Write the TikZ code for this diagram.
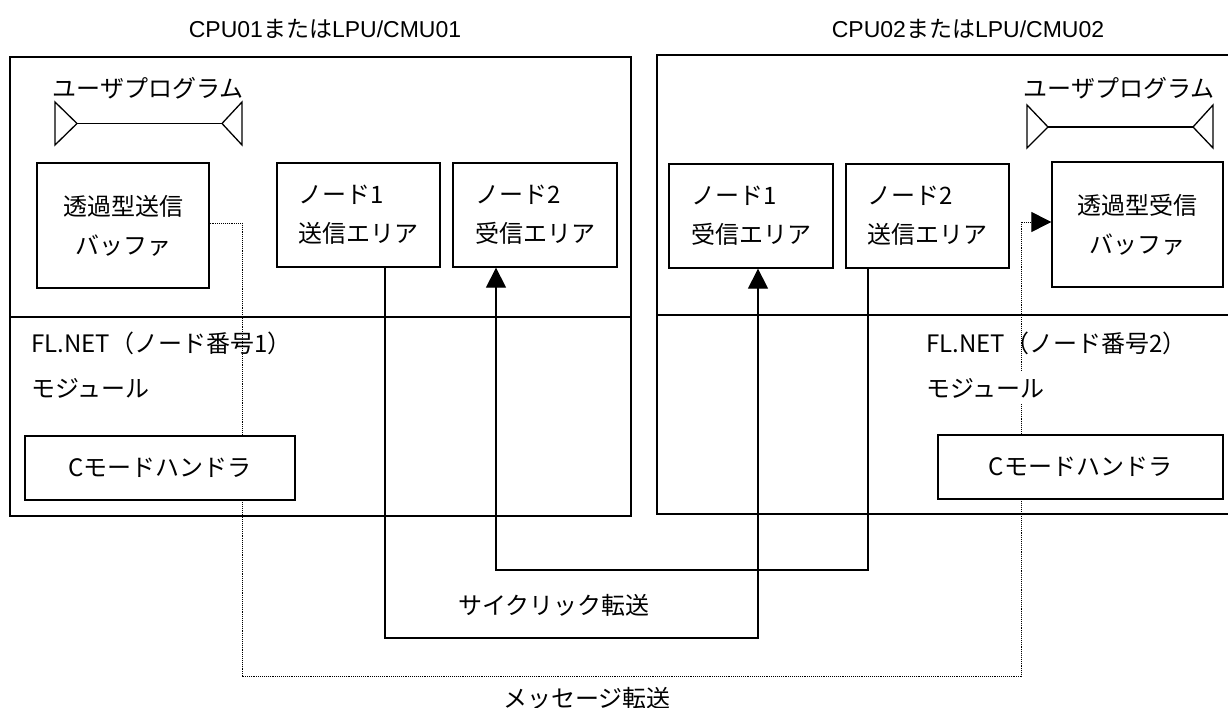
\documentclass[tikz,border=0pt]{standalone}
\usepackage{fontspec}
\setmainfont{Noto Sans CJK JP}
\newfontfamily\jpf{Noto Sans CJK JP}
\newfontfamily\latf{Liberation Sans}
\usetikzlibrary{arrows.meta}
\begin{document}
\begin{tikzpicture}[x=1pt,y=-1pt,
  outer/.style={line width=1.7pt},
  box/.style={draw, line width=1.3pt, fill=white, inner sep=0pt, font=\fontsize{24}{39}\selectfont},
  lbl/.style={inner sep=0pt, font=\fontsize{24}{39}\selectfont},
  ttl/.style={inner sep=0pt, font=\fontsize{23}{27}\selectfont},
  sym/.style={line width=1.3pt, line join=miter},
  cyc/.style={line width=1.2pt, -{Triangle[length=20pt,width=20pt]}},
  msg/.style={line width=0.9pt, densely dotted}]
\useasboundingbox (0,0) rectangle (1228,708);

% titles
\node[ttl] (t1) at (325,29) {\latf CPU01{\jpf または}LPU/CMU01};
\node[ttl] (t2) at (968,29) {\latf CPU02{\jpf または}LPU/CMU02};

% outer boxes
\draw[outer] (10,57) rectangle (631,516);
\draw[outer] (10,317) -- (631,317);
\draw[outer] (1232,55) -- (657,55) -- (657,514) -- (1232,514);
\draw[outer] (657,315) -- (1232,315);

% user program labels and symbols
\node[lbl] (up1) at (148,88) {ユーザプログラム};
\node[lbl] (up2) at (1119,88) {ユーザプログラム};
\draw[sym] (55,102) -- (77,123.5) -- (55,145) -- cycle;
\draw[sym] (77,123.5) -- (222,123.5);
\draw[sym] (242,102) -- (222,123.5) -- (242,145) -- cycle;
\draw[sym] (1027,105) -- (1048,127) -- (1027,148) -- cycle;
\draw[sym] (1048,127) -- (1193,127);
\draw[sym] (1213,105) -- (1193,127) -- (1213,148) -- cycle;

% inner boxes
\node[box, minimum width=172pt, minimum height=125pt, align=center] (tx1) at (123,225.5) {透過型送信\\バッファ};
\node[box, minimum width=163pt, minimum height=104pt, align=left] (n1s) at (358.5,215) {ノード1\\送信エリア};
\node[box, minimum width=164pt, minimum height=104pt, align=left] (n2r) at (535,215) {ノード2\\受信エリア};
\node[box, minimum width=164pt, minimum height=104pt, align=left] (n1r) at (751,216) {ノード1\\受信エリア};
\node[box, minimum width=163pt, minimum height=104pt, align=left] (n2s) at (927.5,216) {ノード2\\送信エリア};
\node[box, minimum width=171pt, minimum height=125pt, align=center] (rx1) at (1137.5,224.5) {透過型受信\\バッファ};

% module labels (first line)
\node[lbl, anchor=west] (fl1) at (31,343) {FL.NET（ノード番号1）};
\node[lbl, anchor=west] (fl2) at (926,343) {FL.NET（ノード番号2）};

% cyclic transfer
\coordinate (c1) at (385,638);
\coordinate (c2) at (758,638);
\coordinate (c3) at (868,570);
\coordinate (c4) at (496,570);
\draw[cyc] (n1s.south -| c1) -- (c1) -- (c2) -- (n1r.south -| c2);
\draw[cyc] (n2s.south -| c3) -- (c3) -- (c4) -- (n2r.south -| c4);
\node[lbl] (cyclbl) at (554,605) {サイクリック転送};

% message transfer
\coordinate (m1) at (242,676);
\coordinate (m2) at (1021,676);
\draw[msg, -{Triangle[length=20pt,width=20pt]}] ([yshift=2.5pt]tx1.east) -| (m1) -- (m2) |- ([yshift=2.5pt]rx1.west);
\node[lbl] (msglbl) at (587,698) {メッセージ転送};

% items drawn over the dotted line
\node[lbl, anchor=west, fill=white, inner ysep=6pt] (mod1) at (31,388) {モジュール};
\node[lbl, anchor=west, fill=white, inner ysep=6pt] (mod2) at (926,388) {モジュール};
\node[box, minimum width=270pt, minimum height=64pt] (cm1) at (160,468) {Cモードハンドラ};
\node[box, minimum width=285pt, minimum height=64pt] (cm2) at (1080.5,467) {Cモードハンドラ};
\end{tikzpicture}
\end{document}
